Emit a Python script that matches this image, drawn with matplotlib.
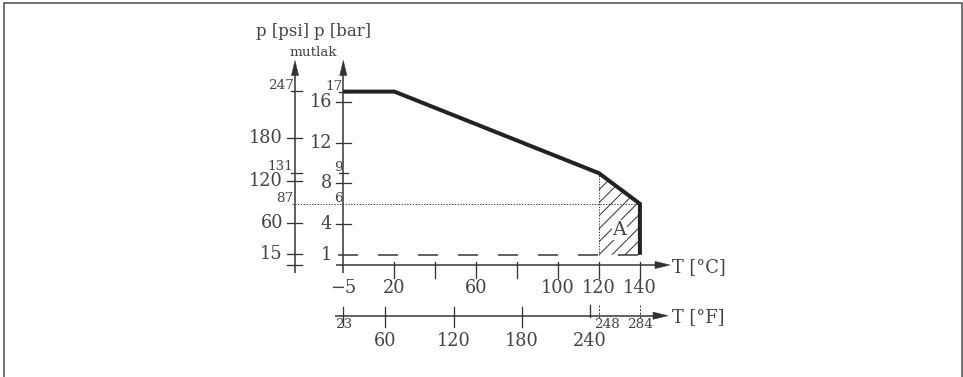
import matplotlib
matplotlib.use("Agg")
import matplotlib.pyplot as plt
from matplotlib.patches import Polygon, Rectangle

# ---------------- data ----------------
curve_T = [-5, 20, 120, 140, 140]          # deg C
curve_p = [17, 17, 9, 6, 1]                # bar (absolute)
hatch_T = [120, 120, 140, 140]
hatch_p = [1, 9, 6, 1]
p_min = 1                                  # dashed lower limit (bar)
p_dot = 6                                  # dotted reference level (bar)
T_dot = 120                                # dotted reference temperature (deg C)
area_label = "A"
area_label_T, area_label_p = 130, 3.4

bar_major = [4, 8, 12, 16]
bar_minor = [9, 17]
psi_major = [15, 60, 120, 180]
psi_minor = [131, 247]
psi_dot = 87
psi_plain = [0]
degC_ticks = [20, 40, 60, 80, 100, 120, 140]
degC_labels = [-5, 20, 60, 100, 120, 140]
degF_major = [60, 120, 180]
degF_240 = 240
degF_minor = [23]
degF_dashed = [248, 284]

PSI_PER_BAR = 14.5038
def psi2bar(v):
    return v / PSI_PER_BAR
def f2c(f):
    return (f - 32) / 1.8

# ---------------- layout (pixel based) ----------------
W, H, DPI = 963, 377, 80
PT = 72 / DPI
X0, KX, T0 = 343.3, 2.0455, -5     # px of T0, px per degC
Y0, KY = 265.0, 10.2               # px of 0 bar, px per bar

def tx(px):
    return T0 + (px - X0) / KX
def ty(py):
    return (Y0 - py) / KY
def dX(px):
    return px / KX
def dY(px):
    return px / KY

plt.rcParams["lines.scale_dashes"] = False
plt.rcParams["font.family"] = ["DejaVu Serif"]

fig = plt.figure(figsize=(W / DPI, H / DPI), dpi=DPI)
ax = fig.add_axes([0, 0, 1, 1])
ax.set_xlim(tx(0), tx(W))
ax.set_ylim(ty(H), ty(0))
ax.axis("off")

LC = "#333333"
TC = "#444444"
AXLW = 1.5 * PT
TKLW = 1.3 * PT
BIG = 17.8 * PT
SMALL = 13.5 * PT

# frame
fig.patches.append(Rectangle((3.7 / W, -0.05), (962.3 - 3.7) / W, 1 - 2.9 / H + 0.05,
                             transform=fig.transFigure, fill=False,
                             edgecolor="#555555", lw=1.6 * PT))

def head_up(x, ytip):
    ax.add_patch(Polygon([(x, ytip), (x - dX(3.6), ytip - dY(15)), (x + dX(3.6), ytip - dY(15))],
                         closed=True, facecolor=LC, edgecolor=LC, lw=0.5 * PT))
def head_right(xtip, y):
    ax.add_patch(Polygon([(xtip, y), (xtip - dX(15), y + dY(3.6)), (xtip - dX(15), y - dY(3.6))],
                         closed=True, facecolor=LC, edgecolor=LC, lw=0.5 * PT))

T_BAR = T0
T_PSI = tx(295)
P_F = ty(315.7)

# vertical axes
for xa in (T_BAR, T_PSI):
    ax.plot([xa, xa], [ty(273), ty(72)], color=LC, lw=AXLW, solid_capstyle="butt")
    head_up(xa, ty(60.5))
# horizontal axes
ax.plot([tx(336), tx(658)], [0, 0], color=LC, lw=AXLW, solid_capstyle="butt")
head_right(tx(670), 0)
ax.plot([tx(335), tx(656)], [P_F, P_F], color=LC, lw=AXLW, solid_capstyle="butt")
head_right(tx(668), P_F)

# bar ticks
for v in bar_major:
    ax.plot([T_BAR - dX(7), T_BAR + dX(8)], [v, v], color=LC, lw=TKLW)
    ax.text(tx(332), v, str(v), ha="right", va="center", fontsize=BIG, color=TC)
for v in bar_minor:
    ax.plot([T_BAR - dX(4), T_BAR + dX(5)], [v, v], color=LC, lw=TKLW)
    ax.text(tx(342.5), v + dY(2), str(v), ha="right", va="baseline", fontsize=SMALL, color=TC)
ax.text(tx(332), p_min, str(p_min), ha="right", va="center", fontsize=BIG, color=TC)
ax.text(tx(342.5), p_dot + dY(1.5), str(p_dot), ha="right", va="baseline", fontsize=SMALL, color=TC)

# psi ticks
for v in psi_major + psi_plain:
    ax.plot([T_PSI - dX(8), T_PSI + dX(7)], [psi2bar(v)] * 2, color=LC, lw=TKLW)
for v in psi_major:
    ax.text(tx(283), psi2bar(v), str(v), ha="right", va="center", fontsize=BIG, color=TC)
for v in psi_minor:
    ax.plot([T_PSI - dX(4), T_PSI + dX(7)], [psi2bar(v)] * 2, color=LC, lw=TKLW)
    ax.text(tx(293.5), psi2bar(v) + dY(2.5), str(v), ha="right", va="baseline", fontsize=SMALL, color=TC)
ax.text(tx(293.5), psi2bar(psi_dot) + dY(1.5), str(psi_dot), ha="right", va="baseline",
        fontsize=SMALL, color=TC)

# degC ticks
for v in degC_ticks:
    ax.plot([v, v], [ty(262), ty(278)], color=LC, lw=TKLW)
for v in degC_labels:
    lab = "\u2212" + str(abs(v)) if v < 0 else str(v)
    ax.text(v, ty(288), lab, ha="center", va="center", fontsize=BIG, color=TC)

# degF ticks
for v in degF_major + degF_minor:
    ax.plot([f2c(v)] * 2, [ty(307), ty(327 if v in degF_major else 325)], color=LC, lw=TKLW)
ax.plot([f2c(degF_240)] * 2, [ty(305), ty(317)], color=LC, lw=TKLW)
for v in degF_dashed:
    ax.plot([f2c(v)] * 2, [ty(305), ty(318)], color=LC, lw=1.0 * PT, linestyle=(0, (2 * PT, 1.6 * PT)))
for v in degF_major + [degF_240]:
    ax.text(f2c(v), ty(340.7), str(v), ha="center", va="center", fontsize=BIG, color=TC)
ax.text(f2c(degF_minor[0]), ty(325), str(degF_minor[0]), ha="center", va="center", fontsize=SMALL, color=TC)
ax.text(f2c(degF_dashed[0]) - dX(5), ty(325), str(degF_dashed[0]), ha="left", va="center", fontsize=SMALL, color=TC)
ax.text(f2c(degF_dashed[1]), ty(325), str(degF_dashed[1]), ha="center", va="center", fontsize=SMALL, color=TC)

# axis titles
ax.text(tx(672), ty(267), "T [°C]", ha="left", va="center", fontsize=BIG, color=TC)
ax.text(tx(672), ty(317), "T [°F]", ha="left", va="center", fontsize=BIG, color=TC)
ax.text(tx(309), ty(32), "p [psi]", ha="right", va="center", fontsize=16.5 * PT, color=TC)
ax.text(tx(314), ty(32), "p [bar]", ha="left", va="center", fontsize=16.5 * PT, color=TC)
ax.text(tx(313), ty(52), "mutlak", ha="center", va="center", fontsize=SMALL, color=TC)

# reference lines
ax.plot([tx(338), max(curve_T)], [p_min, p_min], color=LC, lw=1.5 * PT,
        linestyle=(0, (20 * PT, 20 * PT)))
ax.plot([tx(292), max(curve_T)], [p_dot, p_dot], color=LC, lw=1.0 * PT,
        linestyle=(0, (1.2 * PT, 1.6 * PT)))
ax.plot([T_dot, T_dot], [p_min, curve_p[2]], color=LC, lw=1.0 * PT,
        linestyle=(0, (1.2 * PT, 1.6 * PT)))

# hatched area (45 degree hatch lines clipped to the region)
region = Polygon(list(zip(hatch_T, hatch_p)), closed=True, facecolor="none", edgecolor="none")
ax.add_patch(region)
HSP = 13.0   # hatch spacing in px (horizontal)
for k in range(-9, 6):
    t_start = min(hatch_T) + dX(HSP * k)
    ln, = ax.plot([t_start, t_start + dX(200)], [min(hatch_p), min(hatch_p) + dY(200)],
                  color=LC, lw=1.0 * PT)
    ln.set_clip_path(region)
ax.text(area_label_T, area_label_p, area_label, ha="center", va="center", fontsize=19 * PT, color=TC,
        bbox=dict(boxstyle="square,pad=0.05", facecolor="white", edgecolor="none"))

# limit curve
ax.plot(curve_T, curve_p, color="#222222", lw=4 * PT, solid_joinstyle="miter", solid_capstyle="butt")

fig.savefig("out.png", dpi=DPI)
